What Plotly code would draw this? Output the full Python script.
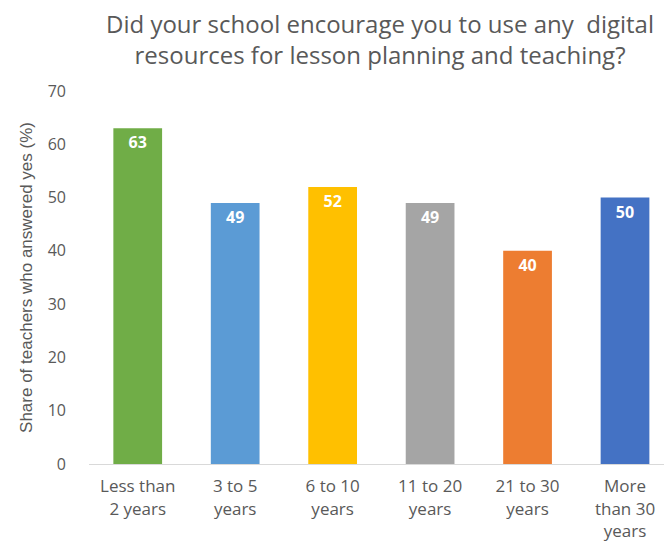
import plotly.graph_objects as go

categories = ["Less than<br>2 years", "3 to 5<br>years", "6 to 10<br>years",
              "11 to 20<br>years", "21 to 30<br>years", "More<br>than 30<br>years"]
share_yes = [63, 49, 52, 49, 40, 50]
bar_colors = ["#70AD47", "#5B9BD5", "#FFC000", "#A5A5A5", "#ED7D31", "#4472C4"]
y_ticks = [0, 10, 20, 30, 40, 50, 60, 70]

title_text = ("Did your school encourage you to use any  digital<br>"
              "resources for lesson planning and teaching?")

grey = "#595959"
font = "Open Sans"

fig = go.Figure(go.Bar(
    x=list(range(len(categories))),
    y=share_yes,
    marker=dict(color=bar_colors, line=dict(width=0)),
    width=0.5,
    text=[f"<b>{v}</b>" for v in share_yes],
    textposition="inside",
    insidetextanchor="end",
    textfont=dict(family=font, size=16, color="white"),
    cliponaxis=False,
))

# Two-line heading placed above the plotting area
fig.add_annotation(
    text=title_text, xref="paper", yref="paper",
    x=0.506, y=1.139, xanchor="center", yanchor="middle",
    showarrow=False, align="center",
    font=dict(family=font, size=24, color=grey),
)

fig.update_layout(
    width=664, height=542,
    margin=dict(l=89, r=0, t=91, b=78),
    paper_bgcolor="white", plot_bgcolor="white",
    showlegend=False,
    uniformtext=dict(minsize=16, mode="show"),
    xaxis=dict(
        tickmode="array", tickvals=list(range(len(categories))), ticktext=categories,
        range=[-0.5, 5.4], showgrid=False, zeroline=False,
        showline=True, linecolor="#D9D9D9", linewidth=1, ticks="",
        tickfont=dict(family=font, size=17, color=grey),
        ticklabelstandoff=7, automargin=False,
    ),
    yaxis=dict(
        range=[0, 70], tickvals=y_ticks, showgrid=False, zeroline=False,
        showline=False, ticks="", automargin=False,
        tickfont=dict(family=font, size=16, color=grey),
        ticklabelstandoff=22,
        title=dict(text="Share of teachers who answered yes (%)",
                   font=dict(family="Liberation Sans Narrow, Liberation Sans", size=17, color=grey),
                   standoff=10),
    ),
)

fig.write_html("out.html")
